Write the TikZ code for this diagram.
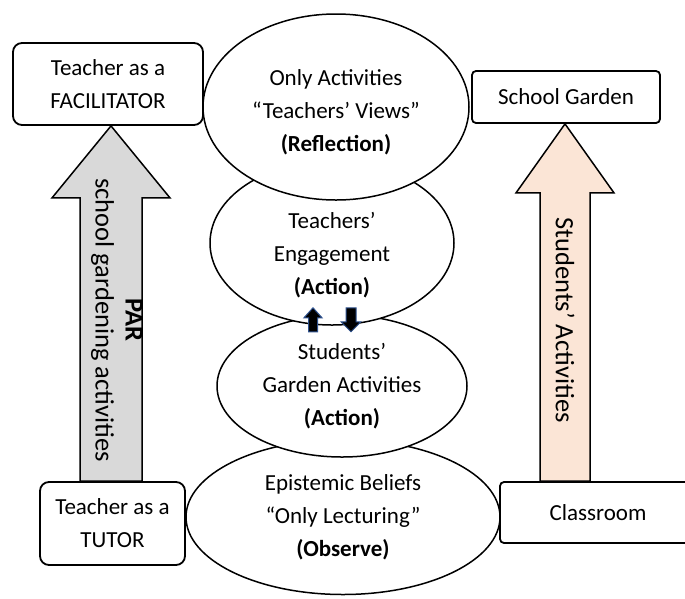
\documentclass[tikz,border=0pt]{standalone}
\usepackage{fontspec}
\setmainfont{Carlito}
\usepackage{xcolor}
\usepackage{tikz}
\usetikzlibrary{shapes,arrows,positioning,calc}
\tikzset{
  font={\fontsize{23pt}{33pt}\selectfont}
}
\definecolor{colorGray}{RGB}{217,217,217}
\definecolor{colorPeach}{RGB}{251,229,214}
\definecolor{colorNavy}{RGB}{47,82,143}
\tikzstyle{box}=[draw, line width=1.8pt, rounded corners=9pt, fill=white, align=center, inner sep=0pt]
\tikzstyle{ell}=[draw, ellipse, line width=1.5pt, fill=white, align=center, inner sep=0pt]
\tikzstyle{txt}=[align=center, inner sep=0pt]
\tikzstyle{bigarrow}=[draw, line width=1.5pt, line join=miter]
\tikzstyle{smallarrow}=[draw=colorNavy, fill=black, line width=1pt]
\tikzstyle{lab}=[rotate=-90, align=center, font={\fontsize{26.5pt}{30pt}\selectfont}]

\begin{document}
\begin{tikzpicture}[x=1pt, y=-1pt]
\useasboundingbox (0,0) rectangle (685,598);

%%% Cycle of ellipses, lowest first
\node[ell, minimum width=314, minimum height=155] (observe_ell) at (343,517) {Epistemic Beliefs\\“Only Lecturing”\\\textbf{(Observe)}};
\node[ell, minimum width=250, minimum height=142] (act_ell) at (342,386) {Students’\\Garden Activities\\\textbf{(Action)}};
\node[ell, minimum width=244, minimum height=164] (engage_ell) at (332,243) {};
\node[txt] (engage_txt) at ($(engage_ell.center)+(0,12)$) {Teachers’\\Engagement\\\textbf{(Action)}};
\node[ell, minimum width=266, minimum height=186] (reflect_ell) at (336,107) {};
\node[txt] (reflect_txt) at ($(reflect_ell.center)+(0,5)$) {Only Activities\\“Teachers’ Views”\\\textbf{(Reflection)}};

%%% Boxes
\node[box, minimum width=190, minimum height=82] (facil_box) at (108,84) {Teacher as a\\FACILITATOR};
\node[box, rounded corners=4pt, minimum width=188, minimum height=52] (garden_box) at (566,97) {School Garden};
\node[box, minimum width=145, minimum height=83] (tutor_box) at (112.5,523.5) {Teacher as a\\TUTOR};
\node[box, rounded corners=4pt, minimum width=196, minimum height=61] (class_box) at (598,512.5) {Classroom};

%%% Block arrows
\coordinate (par_x) at (111,0);
\coordinate (stud_x) at (565,0);
\draw[bigarrow, fill=colorGray] ($(par_x |- tutor_box.north)+(-31,0)$) -- ($(par_x |- facil_box.south)+(-31,72)$)
  -- ++(-28,0) -- (par_x |- facil_box.south) -- ($(par_x |- facil_box.south)+(59,72)$)
  -- ++(-28,0) -- ($(par_x |- tutor_box.north)+(31,0)$) -- cycle;
\draw[bigarrow, fill=colorPeach] ($(stud_x |- class_box.north)+(-25,0)$) -- ($(stud_x |- garden_box.south)+(-25,69)$)
  -- ++(-24,0) -- (stud_x |- garden_box.south) -- ($(stud_x |- garden_box.south)+(49,69)$)
  -- ++(-24,0) -- ($(stud_x |- class_box.north)+(25,0)$) -- cycle;

\node[lab] (par_lab) at (117,320) {\textbf{PAR}\\school gardening activities};
\node[lab] (stud_lab) at (565,320) {Students’ Activities};

%%% Small arrows between the two actions
\draw[smallarrow] ($(engage_ell.south)+(-19,-18)$) -- ++(9,10) -- ++(-4.5,0) -- ++(0,14)
  -- ++(-9,0) -- ++(0,-14) -- ++(-4.5,0) -- cycle;
\draw[smallarrow] ($(engage_ell.south)+(19,6)$) -- ++(10,-10) -- ++(-5,0) -- ++(0,-14)
  -- ++(-10,0) -- ++(0,14) -- ++(-5,0) -- cycle;

\end{tikzpicture}
\end{document}
